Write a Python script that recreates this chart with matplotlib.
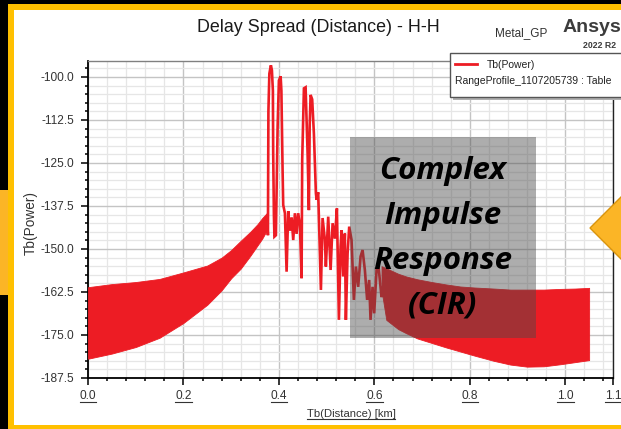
import matplotlib
matplotlib.use('Agg')
import matplotlib.pyplot as plt
from matplotlib.patches import Rectangle, Polygon
from matplotlib.lines import Line2D
from matplotlib.transforms import IdentityTransform
import numpy as np

plt.rcParams['font.family'] = ['Liberation Sans', 'DejaVu Sans']

# ---------------- data ----------------
# dense oscillating part before the main arrivals (envelope)
band1_x = [0.0, 0.05, 0.10, 0.15, 0.20, 0.25, 0.28, 0.30, 0.32, 0.34, 0.355, 0.365, 0.375]
band1_upper = [-161.1, -160.2, -159.6, -158.7, -156.8, -154.8, -152.5, -150.3, -147.6, -145.0, -142.8, -141.0, -139.5]
band1_lower = [-181.9, -180.4, -178.5, -175.8, -171.5, -166.2, -162.0, -158.5, -155.7, -152.0, -149.0, -147.0, -144.5]

# main arrivals (multipath peaks)
spike_x = [0.375, 0.377, 0.378, 0.380, 0.3832, 0.3853, 0.3874, 0.388, 0.3895, 0.3906, 0.3937,
           0.3973, 0.400, 0.4036, 0.4052, 0.4077, 0.409,
           0.4126, 0.4161, 0.4195, 0.4230, 0.4266, 0.4300, 0.4335, 0.4370, 0.4404, 0.4440, 0.4475,
           0.4488, 0.4524, 0.4559, 0.4601, 0.4628, 0.4645, 0.4664, 0.4697, 0.4733, 0.4775,
           0.479, 0.4823, 0.488, 0.4915, 0.4963, 0.4984, 0.5033, 0.5083, 0.5125, 0.5173, 0.5215,
           0.5257, 0.5292, 0.5313, 0.5347, 0.5382, 0.5403, 0.5439, 0.5473, 0.5522, 0.5571, 0.5613,
           0.5661, 0.5711, 0.5753, 0.5801, 0.5849, 0.5891, 0.592, 0.5962, 0.5996, 0.6046, 0.608,
           0.6115, 0.615, 0.6184]
spike_y = [-141.0, -146.0, -110.0, -99.0, -96.6, -98.0, -104.0, -121.7, -140.0, -146.4, -146.0,
           -114.4, -101.0, -99.8, -104.0, -127.0, -137.2,
           -139.6, -156.6, -139.0, -144.7, -140.8, -147.4, -139.6, -145.6, -139.6, -143.0, -158.5,
           -124.0, -103.3, -103.0, -122.2, -138.7, -114.0, -105.2, -106.5, -116.4, -133.8,
           -135.7, -133.5, -161.9, -141.0, -147.3, -155.1, -140.6, -156.1, -142.5, -147.0, -138.2,
           -170.6, -149.3, -144.5, -158.0, -145.5, -170.6, -151.3, -143.5, -147.4, -164.8, -155.1,
           -161.0, -152.2, -150.3, -156.1, -164.8, -159.0, -170.6, -161.0, -168.7, -156.1, -154.2,
           -159.0, -164.0, -161.0]

# dense oscillating tail (envelope)
band2_x = [0.615, 0.625, 0.65, 0.667, 0.69, 0.72, 0.75, 0.78, 0.81, 0.85, 0.885, 0.92, 0.955, 0.99, 1.02, 1.05]
band2_upper = [-155.0, -155.6, -157.2, -158.0, -158.8, -159.6, -160.3, -160.9, -161.2, -161.5, -161.8, -161.8, -161.8, -161.6, -161.5, -161.3]
band2_lower = [-162.0, -170.6, -173.3, -174.5, -176.0, -177.3, -178.6, -179.8, -181.0, -182.5, -183.6, -184.2, -184.1, -183.5, -182.9, -182.3]

x_ticks = [0.0, 0.2, 0.4, 0.6, 0.8, 1.0, 1.1]
x_ticklabels = ['0.0', '0.2', '0.4', '0.6', '0.8', '1.0', '1.1']
y_ticks = [-187.5, -175.0, -162.5, -150.0, -137.5, -125.0, -112.5, -100.0]
y_ticklabels = ['-187.5', '-175.0', '-162.5', '-150.0', '-137.5', '-125.0', '-112.5', '-100.0']

title = 'Delay Spread (Distance) - H-H'
x_label = 'Tb(Distance) [km]'
y_label = 'Tb(Power)'
series_name = 'Tb(Power)'
table_name = 'RangeProfile_1107205739 : Table'
overlay_lines = ['Complex', 'Impulse', 'Response', '(CIR)']

RED = '#ED1C24'
W, H = 621, 429

fig = plt.figure(figsize=(W / 100, H / 100), dpi=100, facecolor='black')

# background: gold frame + white page
bg = fig.add_axes([0, 0, 1, 1], zorder=0)
bg.set_xlim(0, W); bg.set_ylim(H, 0); bg.axis('off')
bg.add_patch(Rectangle((8, 4), 800, 600, fc='#FFC000', ec='none'))
bg.add_patch(Rectangle((13.5, 9.5), 800, 415.5, fc='white', ec='none'))

# main plot
L, R, T, B = 88, 613, 61, 378
ax = fig.add_axes([L / W, 1 - B / H, (R - L) / W, (B - T) / H], zorder=1)
ax.set_facecolor('white')
ax.set_xlim(0, 1.1)
ax.set_ylim(-187.5, -95.35)

ax.fill_between(band1_x, band1_lower, band1_upper, color=RED, lw=0.6, zorder=3)
ax.plot(spike_x, spike_y, color=RED, lw=1.9, zorder=3, solid_joinstyle='miter')
ax.fill_between(band2_x, band2_lower, band2_upper, color=RED, lw=0.6, zorder=3)

ax.set_xticks(x_ticks)
ax.set_xticklabels(x_ticklabels)
ax.set_yticks(y_ticks)
ax.set_yticklabels(y_ticklabels)
ax.set_xticks(np.arange(0, 1.09, 0.04), minor=True)
ax.set_yticks(np.arange(-187.5, -95, 2.5), minor=True)
ax.set_axisbelow(True)
ax.grid(which='major', color='#C4C4C4', lw=1.0)
ax.grid(which='minor', color='#E6E6E6', lw=0.9)
ax.tick_params(which='major', direction='out', length=4.7, width=1.1, color='black',
               labelsize=8.6, labelcolor='#333333')
ax.tick_params(which='minor', direction='out', length=2.5, width=1.1, color='black')
ax.tick_params(axis='y', which='major', pad=5.5)
ax.tick_params(axis='x', which='major', pad=4)
for s in ['left', 'bottom']:
    ax.spines[s].set_color('black'); ax.spines[s].set_linewidth(1.3)
ax.spines['top'].set_color('#808080'); ax.spines['top'].set_linewidth(1.0)
ax.spines['right'].set_color('#222222'); ax.spines['right'].set_linewidth(1.0)

ax.set_ylabel(y_label, fontsize=9.8, color='#333333')
ax.yaxis.set_label_coords((38 - L) / (R - L), (B - 223) / (B - T))
ax.set_xlabel(x_label, fontsize=8.1, color='#333333')
ax.xaxis.set_label_coords((351 - L) / (R - L), (B - 409) / (B - T))

# foreground overlay (annotations of the screenshot)
fg = fig.add_axes([0, 0, 1, 1], zorder=5)
fg.set_xlim(0, W); fg.set_ylim(H, 0); fg.axis('off')
fg.patch.set_alpha(0)

fg.text(318, 28, title, ha='center', va='center', fontsize=12.9, color='#1A1A1A')
fg.text(521, 33, 'Metal_GP', ha='center', va='center', fontsize=8.5, color='#333333')
fg.text(563, 27, 'Ansys', ha='left', va='center', fontsize=14, fontweight='bold', color='#3C3C3C')
fg.text(583, 45, '2022 R2', ha='left', va='center', fontsize=6.3, fontweight='bold', color='#3C3C3C')

# legend box
fg.add_patch(Rectangle((453, 56), 180, 44, fc='#B0B0B0', ec='none'))
fg.add_patch(Rectangle((450, 53), 180, 44, fc='white', ec='#555555', lw=1))
fg.plot([455, 477], [64, 64], color=RED, lw=2)
fg.text(487, 64.5, series_name, ha='left', va='center', fontsize=7.5, color='#222222')
fg.text(455, 81, table_name, ha='left', va='center', fontsize=7.5, color='#222222')

# grey box with CIR text
fg.add_patch(Rectangle((350, 137), 186, 201, fc=(73 / 255, 73 / 255, 73 / 255), alpha=0.45, ec='none'))
for i, t in enumerate(overlay_lines):
    fg.text(443, 171 + i * 45, t, ha='center', va='center', fontsize=22.5,
            fontweight='bold', fontstyle='italic', family=['Open Sans', 'DejaVu Sans'], color='black')

# orange side marks
fg.add_patch(Polygon([(590, 228), (628, 190), (628, 266)], closed=True, fc='#FBB526', ec='#D9940C', lw=1))
fg.add_patch(Rectangle((0, 190), 8, 105, fc='#FBB526', ec='none'))

# underline x tick labels and x label (as in the original)
fig.canvas.draw()
for lbl in list(ax.get_xticklabels()) + [ax.xaxis.label]:
    bb = lbl.get_window_extent()
    fig.add_artist(Line2D([bb.x0, bb.x1], [bb.y0 + 0.5, bb.y0 + 0.5], transform=IdentityTransform(),
                          color='#333333', lw=0.8, zorder=6))

fig.savefig('out.png', dpi=100, facecolor='black')
